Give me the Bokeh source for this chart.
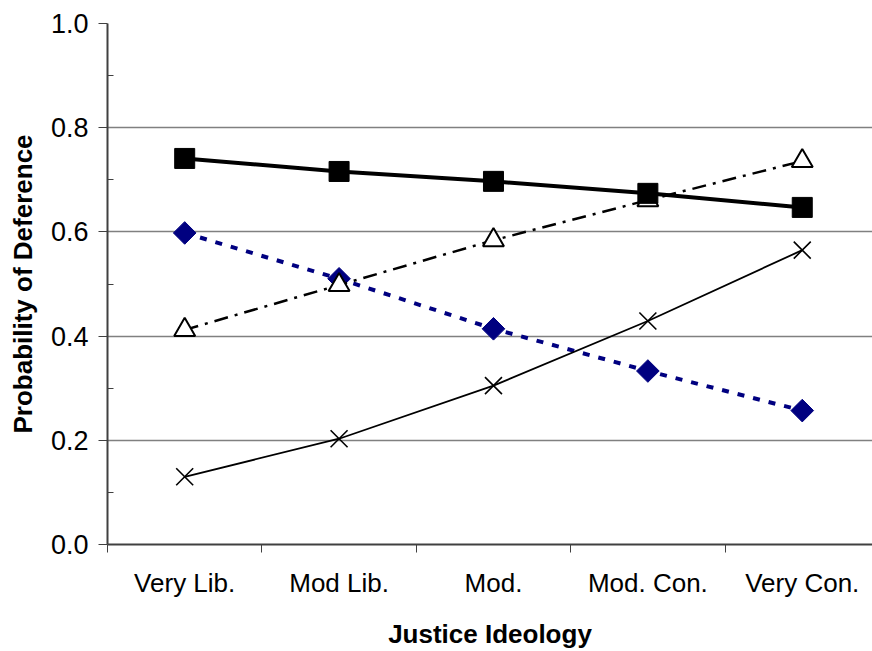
from bokeh.plotting import figure
from bokeh.models import FixedTicker, Range1d
from bokeh.embed import file_html
from bokeh.resources import INLINE

categories = ["Very Lib.", "Mod Lib.", "Mod.", "Mod. Con.", "Very Con."]
squares = [0.741, 0.716, 0.697, 0.674, 0.647]
diamonds = [0.598, 0.510, 0.414, 0.333, 0.257]
triangles = [0.412, 0.498, 0.584, 0.661, 0.736]
crosses = [0.130, 0.203, 0.305, 0.429, 0.565]
y_ticks = [0.0, 0.2, 0.4, 0.6, 0.8, 1.0]

xs = [i + 0.5 for i in range(len(categories))]

p = figure(width=872, height=651, output_backend="svg", toolbar_location=None,
           x_range=Range1d(0, 4.955), y_range=Range1d(0, 1.0))
p.min_border_left = 107
p.min_border_top = 23
p.min_border_right = 0
p.min_border_bottom = 106
p.outline_line_color = None
p.background_fill_color = "white"
p.border_fill_color = "white"

# x axis: labels at centers, ticks at boundaries (minor)
p.xaxis.ticker = FixedTicker(ticks=xs, minor_ticks=list(range(len(categories) + 1)))
p.xaxis.major_label_overrides = {x: c for x, c in zip(xs, categories)}
p.xaxis.major_tick_line_color = None
p.xaxis.major_tick_out = 0
p.xaxis.major_tick_in = 0
p.xaxis.minor_tick_line_color = "#404040"
p.xaxis.minor_tick_out = 8
p.xaxis.minor_tick_in = 0
p.xaxis.axis_line_color = "#404040"
p.xaxis.axis_line_width = 2
p.xaxis.major_label_standoff = 15
p.xaxis.major_label_text_font = "Liberation Sans"
p.xaxis.major_label_text_font_size = "26px"
p.xaxis.major_label_text_color = "black"
p.xaxis.axis_label = "Justice Ideology"
p.xaxis.axis_label_text_font = "Liberation Sans"
p.xaxis.axis_label_text_font_style = "bold"
p.xaxis.axis_label_text_font_size = "26px"
p.xaxis.axis_label_text_color = "black"
p.xaxis.axis_label_standoff = 18

p.yaxis.ticker = FixedTicker(ticks=y_ticks, minor_ticks=[0.1, 0.3, 0.5, 0.7, 0.9])
p.yaxis.major_label_overrides = {t: f"{t:.1f}" for t in y_ticks}
p.yaxis.major_tick_out = 9
p.yaxis.major_tick_in = 0
p.yaxis.major_tick_line_color = "#404040"
p.yaxis.minor_tick_out = 0
p.yaxis.minor_tick_in = 6
p.yaxis.minor_tick_line_color = "#404040"
p.yaxis.axis_line_color = "#404040"
p.yaxis.axis_line_width = 2
p.yaxis.major_label_text_font = "Liberation Sans"
p.yaxis.major_label_text_font_size = "27px"
p.yaxis.major_label_text_color = "black"
p.yaxis.major_label_standoff = 10
p.yaxis.axis_label = "Probability of Deference"
p.yaxis.axis_label_text_font = "Liberation Sans"
p.yaxis.axis_label_text_font_style = "bold"
p.yaxis.axis_label_text_font_size = "26px"
p.yaxis.axis_label_text_color = "black"
p.yaxis.axis_label_standoff = 10

p.xgrid.grid_line_color = None
p.ygrid.grid_line_color = "#808080"
p.ygrid.grid_line_width = 1.5

# diamonds (navy dotted)
p.line(xs, diamonds, line_color="#000080", line_width=4, line_dash="7 9")
p.scatter(xs, diamonds, marker="square", angle=0.785398, size=16,
          fill_color="#000080", line_color="#000080")

# triangles (dash-dot)
p.line(xs, triangles, line_color="black", line_width=2.5, line_dash="14 7 3 7")
p.scatter(xs, triangles, marker="triangle", size=21, fill_color="white", line_color="black", line_width=2)

# squares (thick solid)
p.line(xs, squares, line_color="black", line_width=4)
p.scatter(xs, squares, marker="square", size=20, fill_color="black", line_color="black")

# crosses
p.line(xs, crosses, line_color="black", line_width=1.8)
p.scatter(xs, crosses, marker="x", size=24, line_color="black", line_width=1.6)

open("out.html", "w").write(file_html(p, INLINE))
